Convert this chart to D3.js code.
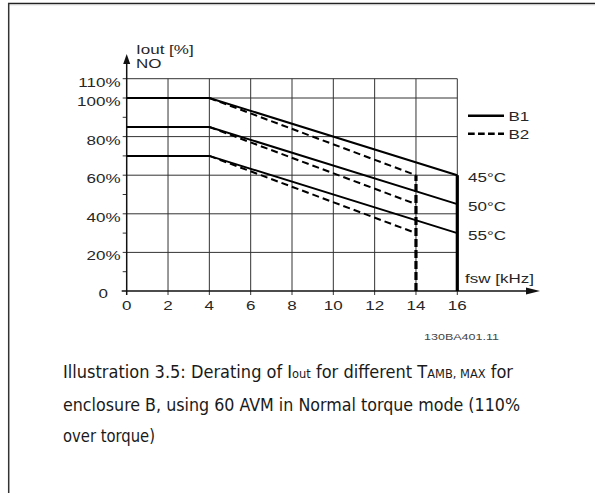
<!DOCTYPE html>
<html><head><meta charset="utf-8">
<script src="https://cdn.jsdelivr.net/npm/d3@7"></script>
<style>html,body{margin:0;padding:0;background:#fff;}svg{display:block;}</style>
</head><body>
<svg id="c" width="595" height="493"></svg>
<script>
const freqTicks = [0, 2, 4, 6, 8, 10, 12, 14, 16];
const yTicks = [0, 20, 40, 60, 80, 100, 110];
const yTickLabels = ["0", "20%", "40%", "60%", "80%", "100%", "110%"];
const yMinorTicks = [10, 30, 50, 70, 90];
const temps = ["45°C", "50°C", "55°C"];
// B1 (solid) curves per temperature: [kHz, %]
const b1_45 = [[0, 100], [4, 100], [16, 60]];
const b1_50 = [[0, 85], [4, 85], [16, 45]];
const b1_55 = [[0, 70], [4, 70], [16, 30]];
// B2 (dashed) curves
const b2_45 = [[4, 100], [14, 60]];
const b2_50 = [[4, 85], [14, 45]];
const b2_55 = [[4, 70], [14, 30]];
const b1Limit = [[16, 0], [16, 60]];
const b2Limit = [[14, 0], [14, 60]];
const legend = ["B1", "B2"];

const svg = d3.select("#c");
const x = d3.scaleLinear().domain([0, 16]).range([126.7, 457.3]);
const y = d3.scaleLinear().domain([0, 110]).range([291, 78.7]);
const F = "'Liberation Sans', Arial, sans-serif";
const SX = 1.26;

function label(sel, px, py, str, anchor, size, fill) {
  return sel.append("text")
    .attr("transform", `translate(${px},${py}) scale(${SX},1)`)
    .attr("text-anchor", anchor || "start")
    .attr("font-family", F).attr("font-size", size || 13.5).attr("fill", fill || "#262626")
    .text(str);
}

// page frame
svg.append("line").attr("x1", 8).attr("x2", 595).attr("y1", 3.5).attr("y2", 3.5).attr("stroke", "#222").attr("stroke-width", 1.5);
svg.append("line").attr("x1", 8).attr("x2", 595).attr("y1", 4.8).attr("y2", 4.8).attr("stroke", "#ccc").attr("stroke-width", 1);
svg.append("line").attr("x1", 8.7).attr("x2", 8.7).attr("y1", 3).attr("y2", 493).attr("stroke", "#333").attr("stroke-width", 1.5);

const g = svg.append("g");
// grid
g.selectAll(".vg").data(freqTicks.filter(d => d > 0)).enter().append("line")
  .attr("x1", d => x(d)).attr("x2", d => x(d)).attr("y1", y(110)).attr("y2", y(0) + 4)
  .attr("stroke", "#333").attr("stroke-width", 1);
g.selectAll(".hg").data(yTicks.filter(d => d > 0)).enter().append("line")
  .attr("x1", x(0) - 4).attr("x2", x(16)).attr("y1", d => y(d)).attr("y2", d => y(d))
  .attr("stroke", "#333").attr("stroke-width", 1);
g.selectAll(".mt").data(yMinorTicks).enter().append("line")
  .attr("x1", x(0) - 4).attr("x2", x(0)).attr("y1", d => y(d)).attr("y2", d => y(d))
  .attr("stroke", "#333").attr("stroke-width", 1);

// axes
g.append("line").attr("x1", x(0) - 5).attr("x2", 530).attr("y1", y(0)).attr("y2", y(0)).attr("stroke", "#111").attr("stroke-width", 1.5);
g.append("path").attr("d", `M540,${y(0)} L526,${y(0) - 3.5} L526,${y(0) + 3.5} Z`).attr("fill", "#111");
g.append("line").attr("x1", x(0)).attr("x2", x(0)).attr("y1", y(0) + 4).attr("y2", 60).attr("stroke", "#111").attr("stroke-width", 1.5);
g.append("path").attr("d", `M${x(0)},54 L${x(0) - 3.5},64 L${x(0) + 3.5},64 Z`).attr("fill", "#111");

// tick labels
yTicks.forEach((d, i) => {
  label(g, d === 0 ? 108 : 120.5, d === 0 ? y(0) + 6.7 : y(d) + 8, yTickLabels[i], "end");
});
freqTicks.forEach(d => label(g, x(d), 310, String(d), "middle"));

label(g, 136, 54, "Iout [%]");
label(g, 136, 68, "NO");
label(g, 465, 283, "fsw [kHz]");

// data
const line = d3.line().x(d => x(d[0])).y(d => y(d[1]));
[b1_45, b1_50, b1_55].forEach(s => {
  g.append("path").attr("d", line(s)).attr("fill", "none").attr("stroke", "#000").attr("stroke-width", 2);
});
[b2_45, b2_50, b2_55].forEach(s => {
  g.append("path").attr("d", line(s)).attr("fill", "none").attr("stroke", "#000").attr("stroke-width", 2).attr("stroke-dasharray", "7,4");
});
g.append("path").attr("d", line(b1Limit)).attr("stroke", "#000").attr("stroke-width", 3.2).attr("fill", "none");
g.append("path").attr("d", line(b2Limit)).attr("stroke", "#000").attr("stroke-width", 3.2).attr("fill", "none").attr("stroke-dasharray", "8,3");

// temperature labels at end of B1 curves
const ends = [b1_45, b1_50, b1_55].map(s => s[s.length - 1][1]);
temps.forEach((t, i) => label(g, 468, y(ends[i]) + 6.5, t));

// legend
g.append("line").attr("x1", 468).attr("x2", 504).attr("y1", 115.7).attr("y2", 115.7).attr("stroke", "#000").attr("stroke-width", 2.5);
g.append("line").attr("x1", 468).attr("x2", 504).attr("y1", 133.7).attr("y2", 133.7).attr("stroke", "#000").attr("stroke-width", 2.5).attr("stroke-dasharray", "6.7,3.3");
legend.forEach((d, i) => label(g, 508.5, 120.5 + i * 18, d));

// figure code
svg.append("text").attr("x", 424).attr("y", 339.5).attr("font-family", F).attr("font-size", 8.5)
  .attr("textLength", 75).attr("lengthAdjust", "spacingAndGlyphs").attr("fill", "#444").text("130BA401.11");

// caption
const CF = "Tahoma, 'DejaVu Sans Condensed', 'DejaVu Sans', sans-serif";
const cap = svg.append("g").attr("font-family", CF).attr("fill", "#1a1a1a");
const l1 = cap.append("text").attr("x", 63).attr("y", 378).attr("font-size", 17).attr("textLength", 450).attr("lengthAdjust", "spacingAndGlyphs");
l1.append("tspan").text("Illustration 3.5: Derating of I");
l1.append("tspan").attr("font-size", 12).text("out");
l1.append("tspan").text(" for different T");
l1.append("tspan").attr("font-size", 12).text("AMB, MAX");
l1.append("tspan").text(" for");
cap.append("text").attr("x", 63).attr("y", 410.5).attr("font-size", 17).attr("textLength", 457).attr("lengthAdjust", "spacingAndGlyphs")
  .text("enclosure B, using 60 AVM in Normal torque mode (110%");
cap.append("text").attr("x", 63).attr("y", 441.5).attr("font-size", 17).attr("textLength", 92).attr("lengthAdjust", "spacingAndGlyphs")
  .text("over torque)");
</script>
</body></html>
